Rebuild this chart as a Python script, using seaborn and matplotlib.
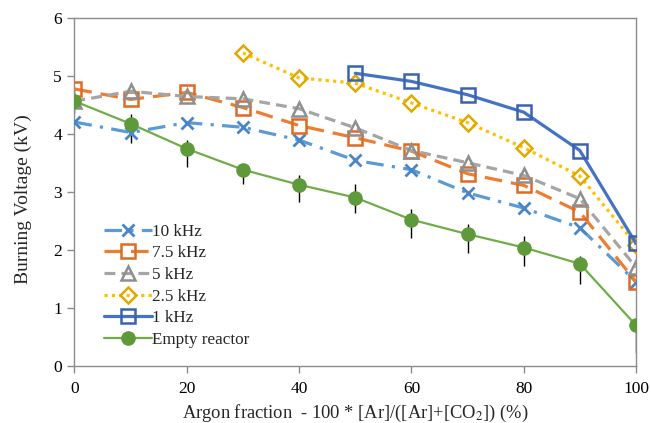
import matplotlib
matplotlib.use("Agg")
import matplotlib.pyplot as plt
import seaborn as sns
import pandas as pd
import numpy as np

# ---- data ----
argon = [0, 10, 20, 30, 40, 50, 60, 70, 80, 90, 100]
v_10k = [4.20, 4.02, 4.19, 4.11, 3.89, 3.54, 3.38, 2.98, 2.72, 2.38, 1.45]
v_7k5 = [4.77, 4.59, 4.71, 4.45, 4.14, 3.93, 3.70, 3.31, 3.11, 2.65, 1.45]
v_5k = [4.56, 4.73, 4.64, 4.60, 4.43, 4.10, 3.71, 3.50, 3.28, 2.88, 1.70]
argon_2k5 = [30, 40, 50, 60, 70, 80, 90, 100]
v_2k5 = [5.39, 4.96, 4.87, 4.53, 4.19, 3.76, 3.27, 2.09]
argon_1k = [50, 60, 70, 80, 90, 100]
v_1k = [5.04, 4.90, 4.67, 4.37, 3.71, 2.11]
v_empty = [4.56, 4.17, 3.74, 3.38, 3.12, 2.90, 2.52, 2.27, 2.04, 1.76, 0.70]
err_up = [0.20, 0.17, 0.15, 0.10, 0.16, 0.24, 0.19, 0.18, 0.20, 0.14, 0.10]
err_down = [0.20, 0.33, 0.31, 0.25, 0.29, 0.27, 0.32, 0.33, 0.32, 0.35, 0.48]

series_names = ["10 kHz", "7.5 kHz", "5 kHz", "2.5 kHz", "1 kHz", "Empty reactor"]

frames = [
    pd.DataFrame({"x": argon, "y": v_10k, "series": "10 kHz"}),
    pd.DataFrame({"x": argon, "y": v_7k5, "series": "7.5 kHz"}),
    pd.DataFrame({"x": argon, "y": v_5k, "series": "5 kHz"}),
    pd.DataFrame({"x": argon_2k5, "y": v_2k5, "series": "2.5 kHz"}),
    pd.DataFrame({"x": argon_1k, "y": v_1k, "series": "1 kHz"}),
    pd.DataFrame({"x": argon, "y": v_empty, "series": "Empty reactor"}),
]
df = pd.concat(frames, ignore_index=True)

sns.set_style("white")
plt.rcParams["font.family"] = ["Liberation Serif", "DejaVu Serif"]
plt.rcParams["mathtext.fontset"] = "stix"

fig = plt.figure(figsize=(6.51, 4.23), dpi=100)
ax = fig.add_axes([0.1144, 0.1348, 0.977 - 0.1144, 0.9586 - 0.1348])

styles = {
    "10 kHz": dict(color="#5B9BD5", mec="#4A86C5", marker="x", ms=9, mew=2.0,
                   ls=(0, (5.5, 2.6, 1.0, 2.6)), lw=2.3),
    "7.5 kHz": dict(color="#ED7D31", mec="#DE6B24", marker="s", ms=9.5, mew=1.8,
                    ls=(0, (5.5, 2.8)), lw=2.3),
    "5 kHz": dict(color="#A5A5A5", mec="#8F8F8F", marker="^", ms=10, mew=1.8,
                  ls=(0, (3.4, 1.9)), lw=2.3),
    "2.5 kHz": dict(color="#FFC000", mec="#E0A800", marker="D", ms=8.5, mew=1.8,
                    ls=(0, (1.0, 1.3)), lw=2.3),
    "1 kHz": dict(color="#4472C4", mec="#3A62AE", marker="s", ms=9.5, mew=1.8,
                  ls="-", lw=2.3),
    "Empty reactor": dict(color="#70AD47", mec="#5E9A3A", marker="o", ms=9.5, mew=1.0,
                          ls="-", lw=1.6),
}

# error bars for empty reactor (drawn first, below markers)
ax.errorbar(argon, v_empty, yerr=[err_down, err_up], fmt="none",
            ecolor="black", elinewidth=1.0, capsize=0, zorder=2)

for name in series_names:
    st = styles[name]
    sub = df[df["series"] == name]
    face = st["mec"] if name == "Empty reactor" else "none"
    sns.lineplot(data=sub, x="x", y="y", ax=ax, color=st["color"],
                 linewidth=st["lw"], linestyle=st["ls"], marker=st["marker"],
                 markersize=st["ms"], markeredgewidth=st["mew"],
                 markeredgecolor=st["mec"], markerfacecolor=face,
                 errorbar=None, label=name, zorder=3, sort=False)

ax.set_xlim(0, 100)
ax.set_ylim(0, 6)
ax.set_xticks([0, 20, 40, 60, 80, 100])
ax.set_yticks([0, 1, 2, 3, 4, 5, 6])

for s in ax.spines.values():
    s.set_color("#8C8C8C")
    s.set_linewidth(1.0)
    s.set_visible(True)

ax.tick_params(axis="both", which="major", direction="out", length=5, width=1,
               color="#8C8C8C", labelsize=12.5, labelcolor="black", pad=4,
               bottom=True, left=True)
ax.tick_params(axis="x", pad=6)

ax.set_xlabel("Argon fraction  - 100 * [Ar]/([Ar]+[CO$_2$]) (%)", fontsize=13.3,
              labelpad=4)
ax.set_ylabel("Burning Voltage (kV)", fontsize=14)
ax.yaxis.set_label_coords(-0.076, 0.48)

leg = ax.legend(loc="upper left", bbox_to_anchor=(0.046, 0.418), frameon=False,
                fontsize=12.3, handlelength=2.8, handletextpad=0.05,
                labelspacing=0.33, borderaxespad=0.0, borderpad=0.2)

fig.savefig("out.png", dpi=100)
